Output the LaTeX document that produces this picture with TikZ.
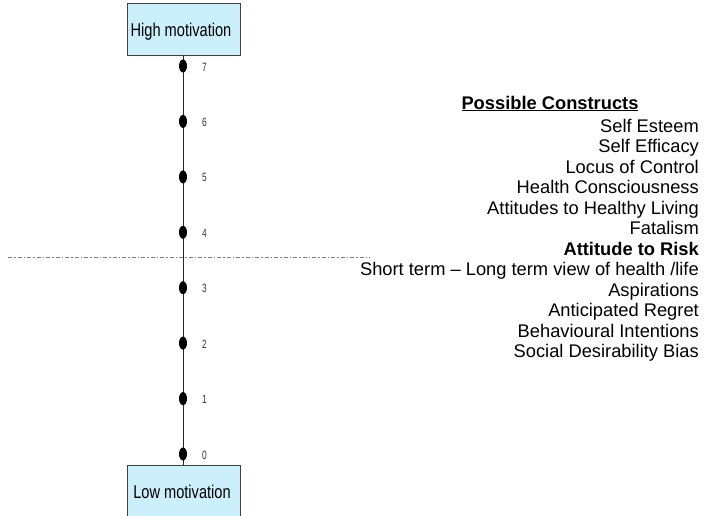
\documentclass[tikz,border=0pt]{standalone}
\usepackage{fontspec}
\usetikzlibrary{shapes.geometric}
\setmainfont{Liberation Sans}
\newfontfamily\narrowfont[FakeStretch=0.79]{Liberation Sans}
\newfontfamily\numfont[FakeStretch=0.7]{Liberation Sans}
\begin{document}
\begin{tikzpicture}[x=1pt,y=-1pt,
  levelbox/.style={draw=black!75,line width=0.8pt,fill=cyan!20,inner sep=0pt},
  boxtext/.style={font=\narrowfont\fontsize{18.5}{18.5}\selectfont,text=black,anchor=base,inner sep=0pt},
  dot/.style={ellipse,fill=black,inner sep=0pt,minimum width=8pt,minimum height=13pt},
  scalenum/.style={font=\numfont\fontsize{12}{12}\selectfont,text=black!80,anchor=west,inner sep=0pt},
  construct/.style={font=\fontsize{18.3}{18.3}\selectfont,anchor=base east,inner sep=0pt},
  divider/.style={draw=black!50,line width=0.8pt,dash pattern=on 4pt off 2pt on 1.5pt off 2pt}]
\useasboundingbox (0,0) rectangle (704,515);
\clip (0,0) rectangle (704,515);

% boxes at both ends of the scale
\draw[levelbox] (127,3) rectangle (240,55);
\node[boxtext] (high) at (181,36) {High motivation};
\draw[levelbox] (127,465) rectangle (240,530);
\node[boxtext] (low) at (182,498) {Low motivation};
\coordinate (top) at (183,55);
\coordinate (bot) at (183,465);

% scale line
\draw[black!85,line width=0.9pt] (top) -- (bot);

% horizontal divider
\coordinate (dl) at (8,257);
\coordinate (dr) at (370,257);
\draw[divider] (dl) -- (dr);

% scale points 0..7
\foreach \k in {0,...,7}{
  \node[dot] (p\k) at (183,{454-55.43*\k}) {};
  \node[scalenum] (n\k) at (202,{455-55.43*\k}) {\k};
}

% list of constructs
\node[font=\bfseries\fontsize{18.3}{18.3}\selectfont,anchor=base,inner sep=0pt] (title) at (550,109) {\underline{Possible Constructs}};
\foreach \t [count=\i] in {Self Esteem,Self Efficacy,Locus of Control,Health Consciousness,Attitudes to Healthy Living,Fatalism,\textbf{Attitude to Risk},Short term – Long term view of health /life,Aspirations,Anticipated Regret,Behavioural Intentions,Social Desirability Bias}{
  \node[construct] (c\i) at (699,{132+20.5*(\i-1)}) {\t};
}
\end{tikzpicture}
\end{document}
